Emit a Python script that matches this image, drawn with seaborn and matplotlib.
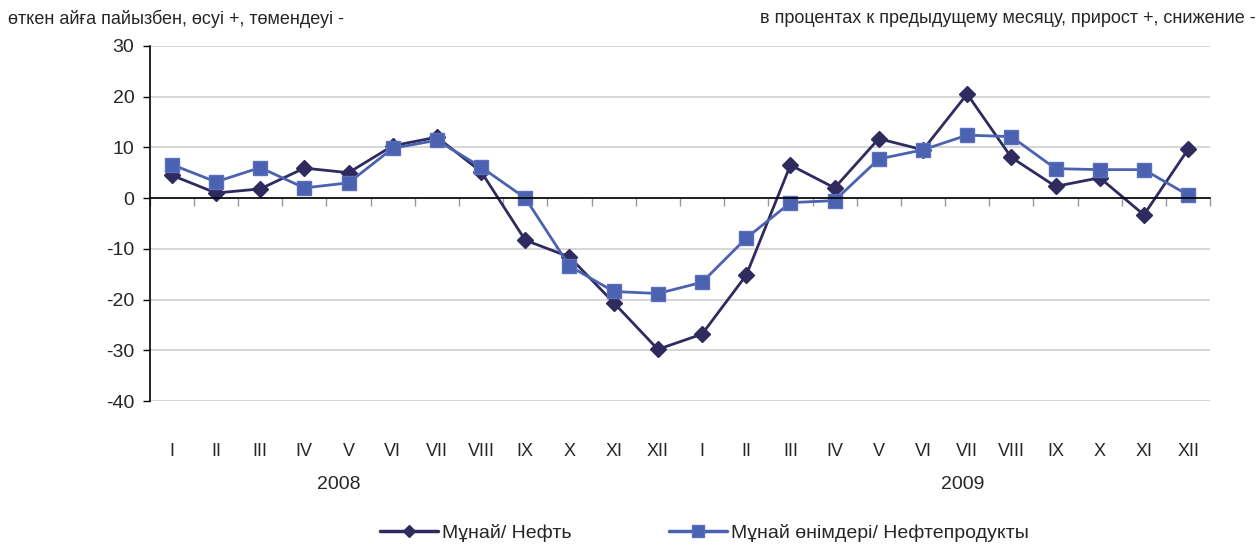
import numpy as np
import pandas as pd
import seaborn as sns
import matplotlib
matplotlib.use("Agg")
import matplotlib.pyplot as plt

# ---- data ----
months = ["I", "II", "III", "IV", "V", "VI", "VII", "VIII", "IX", "X", "XI", "XII"] * 2
years = ["2008", "2009"]
oil = [4.5, 1.0, 1.8, 5.9, 5.0, 10.3, 12.0, 5.2, -8.3, -11.6, -20.6, -29.8,
       -26.8, -15.2, 6.5, 2.0, 11.7, 9.5, 20.5, 8.0, 2.3, 4.0, -3.3, 9.6]
products = [6.6, 3.2, 6.0, 2.0, 3.0, 9.8, 11.4, 6.1, 0.0, -13.4, -18.4, -18.8,
            -16.6, -7.9, -0.9, -0.5, 7.7, 9.5, 12.4, 12.1, 5.8, 5.6, 5.6, 0.6]
series_names = ["Мұнай/ Нефть", "Мұнай өнімдері/ Нефтепродукты"]

df = pd.DataFrame({
    "pos": list(range(24)) * 2,
    "value": oil + products,
    "series": [series_names[0]] * 24 + [series_names[1]] * 24,
})

sns.set_theme(style="white")
plt.rcParams["font.family"] = ["Liberation Sans", "DejaVu Sans"]

fig = plt.figure(figsize=(12.58, 5.45), dpi=100)
ax = fig.add_axes([0.119, 0.264, 0.843, 0.652])

palette = {series_names[0]: "#2f2b5f", series_names[1]: "#4a62b0"}
sns.lineplot(data=df, x="pos", y="value", hue="series", style="series",
             palette=palette, markers={series_names[0]: "D", series_names[1]: "s"},
             dashes=False, markersize=9, linewidth=2, markeredgewidth=1,
             ax=ax, legend=False)
for line, ec in zip(ax.lines, ["#2f2b5f", "#5a6fc0"]):
    line.set_markeredgecolor(ec)
ax.lines[0].set_markersize(8)
ax.lines[1].set_markersize(10)

ax.set_xlim(-0.5, 23.5)
ax.set_ylim(-40, 30)
ax.set_yticks(range(-40, 31, 10))
ax.set_yticklabels([str(v) for v in range(-40, 31, 10)], fontsize=14)
ax.yaxis.grid(True, color="#d0d0d0", linewidth=1.2)
ax.set_axisbelow(True)
ax.tick_params(axis="y", direction="out", length=5, width=1, color="black", pad=6, left=True)
ax.set_xlabel("")
ax.set_ylabel("")

for s in ["top", "right"]:
    ax.spines[s].set_visible(False)
ax.spines["left"].set_color("black")
ax.spines["left"].set_linewidth(1.2)
ax.spines["bottom"].set_position(("data", 0))
ax.spines["bottom"].set_color("black")
ax.spines["bottom"].set_linewidth(1.2)
ax.set_xticks(np.arange(-0.5, 24, 1.0))
ax.set_xticklabels([])
ax.tick_params(axis="x", direction="out", length=6, width=1, color="#999999", bottom=True)

# month labels below the plot
sec = ax.secondary_xaxis("bottom")
sec.set_xticks(range(24))
sec.set_xticklabels(months, fontsize=13)
sec.tick_params(length=0, pad=30)
sec.spines["bottom"].set_visible(False)

for xpos, yr in zip([3.78, 17.9], years):
    ax.text(xpos, -0.21, yr, transform=ax.get_xaxis_transform(), ha="center",
            va="top", fontsize=14)

fig.text(0.006, 0.966, "өткен айға пайызбен, өсуі +, төмендеуі -", ha="left",
         va="center", fontsize=13)
fig.text(0.998, 0.966, "в процентах к предыдущему месяцу, прирост +, снижение -",
         ha="right", va="center", fontsize=13)

handles = [
    plt.Line2D([], [], color="#2f2b5f", marker="D", markersize=6, linewidth=2.5),
    plt.Line2D([], [], color="#4a62b0", marker="s", markersize=8, linewidth=2.5,
               markeredgecolor="#5a6fc0"),
]
fig.legend(handles, series_names, loc="center", bbox_to_anchor=(0.56, 0.022),
           ncol=2, frameon=False, handlelength=3.0, handletextpad=0.2,
           columnspacing=5, prop={"size": 14})

fig.savefig("out.png", dpi=100)
